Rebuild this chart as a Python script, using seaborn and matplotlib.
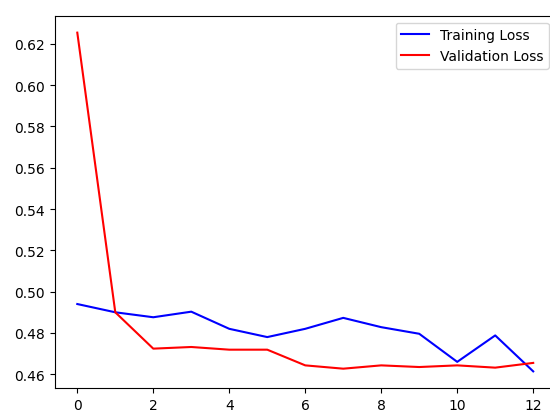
import numpy as np
import matplotlib
matplotlib.use('Agg')
import matplotlib.pyplot as plt
import seaborn as sns

# epoki i wartosci strat
epochs = np.arange(13)
train_loss = [0.494, 0.490, 0.4876, 0.4903, 0.482, 0.478, 0.482, 0.4873,
              0.4828, 0.4796, 0.466, 0.4788, 0.4614]
val_loss = [0.6254, 0.490, 0.4724, 0.4732, 0.4719, 0.4719, 0.4643, 0.4627,
            0.4643, 0.4635, 0.4643, 0.4632, 0.4655]

fig = plt.figure(figsize=(5.5, 4.14), dpi=100)
# obraz jest przyciety - prawa krawedz osi wychodzi poza kadr
ax = fig.add_axes([54.5 / 550, 24.7 / 414, (556 - 54.5) / 550, 372.6 / 414])

sns.lineplot(x=epochs, y=train_loss, color='blue', label='Training Loss', ax=ax)
sns.lineplot(x=epochs, y=val_loss, color='red', label='Validation Loss', ax=ax)

ax.set_xticks(np.arange(0, 13, 2))
ax.set_yticks(np.arange(0.46, 0.621, 0.02))
ax.legend(loc='upper right')

fig.savefig('out.png', dpi=100)
